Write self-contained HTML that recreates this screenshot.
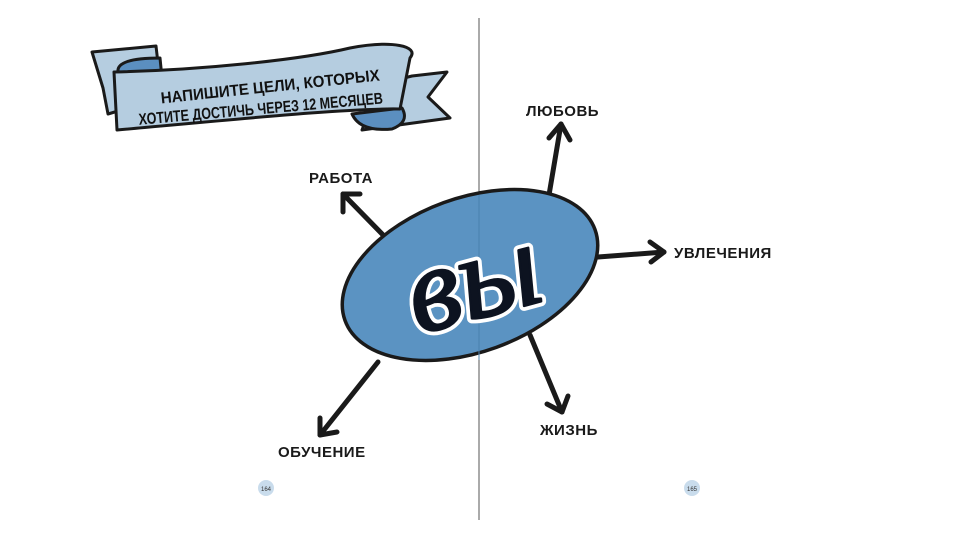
<!DOCTYPE html>
<html><head><meta charset="utf-8"><style>
html,body{margin:0;padding:0;background:#fff}
svg{display:block}
.lbl{font-family:"Liberation Sans",sans-serif;font-weight:bold;font-size:15px;fill:#1a1a1a;letter-spacing:0.5px}
</style></head><body>
<svg width="960" height="540" viewBox="0 0 960 540" xmlns="http://www.w3.org/2000/svg">
<line x1="479" y1="18" x2="479" y2="520" stroke="#555" stroke-width="1"/>
<!-- banner -->
<g stroke="#1a1a1a" stroke-width="3" stroke-linejoin="round">
<path d="M92,52 L156,46 L162,98 L108,114 L103,88 Z" fill="#b5cde0"/>
<path d="M380,84 L412,76 L447,72 L428,97 L450,118 L362,130 Z" fill="#b5cde0"/>
<path d="M118,72 Q116,58 160,58 L163,88 Z" fill="#5b8fc0"/>
<path d="M352,114 L402,108 Q410,122 392,129 Q360,132 352,114Z" fill="#5b8fc0"/>
<path d="M114,72 C200,70 300,60 350,48 C392,40 420,46 410,58 L400,109 C350,108 250,118 117,130 Z" fill="#b5cde0"/>
</g>
<g font-family="Liberation Sans,sans-serif" font-weight="bold" fill="#111">
<text x="160" y="92" font-size="16" textLength="220" lengthAdjust="spacingAndGlyphs" transform="rotate(-6 270 85)">НАПИШИТЕ ЦЕЛИ, КОТОРЫХ</text>
<text x="138" y="114" font-size="16" textLength="245" lengthAdjust="spacingAndGlyphs" transform="rotate(-5 262 106)">ХОТИТЕ ДОСТИЧЬ ЧЕРЕЗ 12 МЕСЯЦЕВ</text>
</g>
<!-- arrows -->
<g stroke="#1a1a1a" stroke-width="5" fill="none" stroke-linecap="round" stroke-linejoin="round">
<line x1="388" y1="240" x2="343" y2="194"/><polyline points="343,212 343,194 360,194"/>
<line x1="549" y1="195" x2="561" y2="124"/><polyline points="549,138 561,124 570,140"/>
<line x1="598" y1="257" x2="664" y2="252"/><polyline points="650,242 664,252 651,262"/>
<line x1="530" y1="335" x2="562" y2="412"/><polyline points="547,404 562,412 568,396"/>
<line x1="378" y1="362" x2="320" y2="435"/><polyline points="320,418 320,435 337,432"/>
</g>
<ellipse cx="470" cy="275" rx="133" ry="77" transform="rotate(-20 470 275)" fill="#5b93c2" stroke="#1a1a1a" stroke-width="3.5"/>
<line x1="479" y1="195" x2="479" y2="360" stroke="#4a80ad" stroke-width="1"/>
<g transform="rotate(-15 475 290)">
<text x="475" y="318" text-anchor="middle" font-family="Liberation Serif,serif" font-style="italic" font-size="120" fill="#0d1320" stroke="#fff" stroke-width="10" paint-order="stroke" stroke-linejoin="round">вы</text>
<text x="475" y="318" text-anchor="middle" font-family="Liberation Serif,serif" font-style="italic" font-size="120" fill="#0d1320" stroke="#0d1320" stroke-width="2.5" stroke-linejoin="round">вы</text>
</g>
<text class="lbl" x="309" y="183">РАБОТА</text>
<text class="lbl" x="526" y="116">ЛЮБОВЬ</text>
<text class="lbl" x="674" y="258">УВЛЕЧЕНИЯ</text>
<text class="lbl" x="540" y="435">ЖИЗНЬ</text>
<text class="lbl" x="278" y="457">ОБУЧЕНИЕ</text>
<circle cx="266" cy="488" r="8" fill="#c9dcec"/>
<circle cx="692" cy="488" r="8" fill="#c9dcec"/>
<text x="266" y="491" font-size="6" text-anchor="middle" font-family="Liberation Sans,sans-serif" fill="#333">164</text>
<text x="692" y="491" font-size="6" text-anchor="middle" font-family="Liberation Sans,sans-serif" fill="#333">165</text>
</svg>
</body></html>
